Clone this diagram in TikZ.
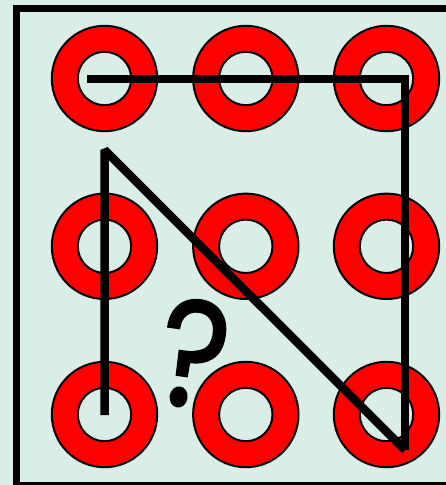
\documentclass[tikz,border=0pt]{standalone}
\usepackage{fontspec}
\newfontfamily\qfont{Poppins}[FakeBold=1.5]
\definecolor{bgc}{RGB}{218,238,232}
\begin{document}
\begin{tikzpicture}[x=1pt,y=-1pt,
  outerring/.style={circle,draw=black,line width=2pt,fill=red,minimum size=105.4pt,inner sep=0pt},
  innerhole/.style={circle,draw=black,line width=2pt,fill=bgc,minimum size=53.4pt,inner sep=0pt},
  stroke/.style={line width=8.5pt,black}]
\fill[bgc] (0,0) rectangle (446,485);
\useasboundingbox (0,0) rectangle (446,485);
\clip (0,0) rectangle (446,485);
\draw[line width=7pt] (16.7,8.5) rectangle (470,485.5);
% rings
\foreach \c/\x in {1/104.5,2/245.8,3/386.5}{
  \foreach \r/\y in {1/78.5,2/246.3,3/414.5}{
    \node[outerring] (o\r\c) at (\x,\y) {};
    \node[innerhole] (h\r\c) at (\x,\y) {};
  }
}
% pattern path
\coordinate (s) at (87,79);
\coordinate (c) at (405,79);
\coordinate (e) at (405,450);
\coordinate (t) at (104.5,150);
\coordinate (f) at (104.5,415);
\draw[stroke,line join=miter] (s) -- (c) -- (e);
\draw[stroke,line join=bevel] (e) -- (t) -- (f);
% question mark
\node[inner sep=0pt,rotate=-8,xscale=0.86,font=\qfont\fontsize{152}{152}\selectfont] (q) at (194,354) {?};
\end{tikzpicture}
\end{document}
